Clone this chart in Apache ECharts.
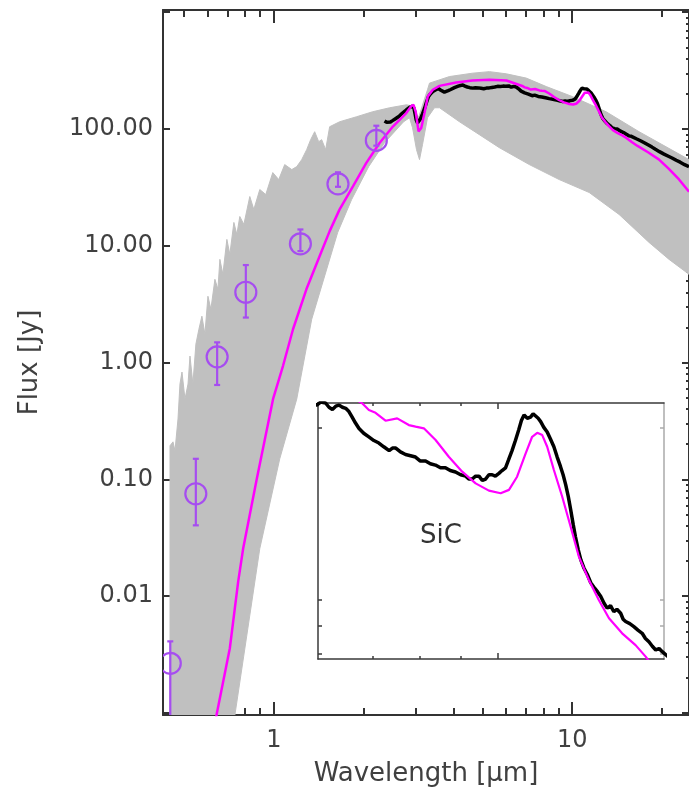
<!DOCTYPE html>
<html><head><meta charset="utf-8">
<script src="https://cdn.jsdelivr.net/npm/echarts@6/dist/echarts.min.js"></script>
<style>html,body{margin:0;padding:0;background:#fff}#c{width:689px;height:792px}</style>
</head><body><div id="c"></div>
<script>
// ---------- tick values / labels ----------
const xTickLabels = [1, 10];
const xMajorTicks = [1, 10];
const xMinorTicks = [0.5, 0.6, 0.7, 0.8, 0.9, 2, 3, 4, 5, 6, 7, 8, 9, 20];
const yTickLabels = [0.01, 0.1, 1, 10, 100];
const yMajorTicks = [0.001, 0.01, 0.1, 1, 10, 100, 1000];
const yMinorTicks = [0.002,0.003,0.004,0.005,0.006,0.007,0.008,0.009,
  0.02,0.03,0.04,0.05,0.06,0.07,0.08,0.09,
  0.2,0.3,0.4,0.5,0.6,0.7,0.8,0.9,
  2,3,4,5,6,7,8,9, 20,30,40,50,60,70,80,90, 200,300,400,500,600,700,800,900];
const insetXMajor = [10];
const insetXMinor = [7, 8, 9];
const insetYTicks = [84.7, 94.9, 105.4, 211.5];

// ---------- photometry ----------
const photWave = [0.45, 0.548, 0.646, 0.806, 1.228, 1.641, 2.206];
const photFlux = [0.00266, 0.0753, 1.12, 4.0, 10.4, 33.9, 79.9];
const photLow  = [0.0004, 0.0404, 0.643, 2.43, 9.01, 32.0, 72];
const photHigh = [0.0041, 0.150, 1.49, 6.84, 13.8, 42.6, 106.7];

// ---------- observed spectrum (black) ----------
const blackWave = [2.35,2.39,2.42,2.46,2.50,2.55,2.60,2.65,2.70,2.75,2.80,2.85,2.88,2.92,2.95,2.98,3.00,3.03,3.06,3.10,3.15,3.20,3.25,3.30,3.34,3.37,3.41,3.45,3.49,3.52,3.56,3.59,3.63,3.68,3.73,3.78,3.84,3.90,3.96,4.03,4.09,4.15,4.22,4.30,4.37,4.45,4.54,4.64,4.74,4.85,4.95,5.05,5.16,5.27,5.38,5.50,5.62,5.75,5.86,5.98,6.05,6.13,6.19,6.25,6.31,6.37,6.43,6.49,6.55,6.61,6.67,6.74,6.83,6.93,7.03,7.13,7.23,7.34,7.41,7.48,7.58,7.69,7.80,7.91,8.02,8.14,8.25,8.37,8.49,8.61,8.73,8.86,8.99,9.12,9.20,9.29,9.38,9.47,9.56,9.65,9.74,9.83,9.92,10.02,10.11,10.21,10.30,10.40,10.50,10.60,10.68,10.76,10.86,10.96,11.04,11.12,11.20,11.28,11.38,11.49,11.60,11.71,11.82,11.93,12.02,12.11,12.20,12.28,12.37,12.45,12.55,12.64,12.75,12.87,13.00,13.12,13.25,13.37,13.50,13.62,13.75,13.88,14.00,14.15,14.25,14.35,14.52,14.69,14.86,15.04,15.18,15.33,15.48,15.63,15.78,15.92,16.40,17.00,17.50,18.00,18.50,19.00,19.60,20.30,21.00,21.60,22.30,23.00,23.80,24.62];
const blackFlux = [117,114,111,115,118,122,126,131,137,142,148,153,156,157,150,132,120,113,114,122,135,150,170,190,198,203,209,213,217,219,222,221,215,211,207,209,213,217,221,226,230,233,236,238,233,229,226,224,226,225,223,221,224,225,227,229,232,231,233,232,235,234,230,228,231,232,230,229,226,221,216,211,207,204,201,199,196,193,195,195,192,190,189,188,185,185,183,182,180,180,178,177,175,174,172,172,174,174,171,172,175,175,174,176,178,180,186,193,201,210,218,223,220,221,224,222,220,217,212,208,202,196,188,181,175,168,160,152,143,136,129,124,120,117,113,111,109,107,104,102,103,100.5,101.5,99.9,97.5,96.6,95.8,94.6,93.3,92.1,90.2,89.0,87.4,86.1,86.6,85.5,82.5,79,76,73,70,67,64,61,58.5,56.5,54,52,49.5,47.5];

// ---------- best model (magenta) ----------
const modelWave = [0.6252,0.6431,0.7124,0.7598,0.7896,0.8773,0.9946,1.074,1.160,1.286,1.425,1.539,1.662,1.842,2.042,2.262,2.506,2.779,2.894,2.94,2.99,3.055,3.12,3.199,3.28,3.41,3.592,4.083,4.63,5.278,6.02,6.80,6.931,7.063,7.266,7.510,7.762,7.912,8.1,8.374,8.693,9.03,9.38,9.74,10.07,10.31,10.55,10.81,11.01,11.17,11.33,11.49,11.71,11.99,12.28,12.57,12.93,13.30,13.69,14.21,14.76,15.19,15.87,16.5,18.0,19.5,21.0,22.8,24.62];
const modelFlux = [0.00061,0.000963,0.00358,0.0133,0.0256,0.101,0.488,0.939,1.93,4.24,8.17,13.35,20.5,32.3,51.3,75.9,105,137,158,161,140,95.4,102,137,190,217,234,250,260,264,260,233.7,227.4,224.9,217.8,219.9,214.0,212.6,211.2,201.4,188.2,177.2,169.0,164.1,162.4,164.6,173.6,190.9,204.1,207.4,205.5,196.0,178.4,160.1,141.8,125.6,114.3,105.4,97.9,92.1,87.8,83.8,77,72,63,55,46,37,29];

// ---------- model grid envelope (grey) ----------
const gridUpperWave = [0.449,0.4595,0.4666,0.4776,0.4849,0.4925,0.504,0.516,0.5238,0.5358,0.5483,0.5612,0.5743,0.5878,0.6017,0.6156,0.635,0.6499,0.6598,0.6752,0.6963,0.7124,0.7350,0.7520,0.7695,0.7938,0.8311,0.8573,0.8977,0.9402,0.9924,1.039,1.088,1.149,1.194,1.240,1.289,1.329,1.371,1.414,1.447,1.492,1.539,1.662,1.895,2.143,2.443,2.785,2.894,2.96,3.055,3.15,3.274,3.325,3.879,4.630,5.278,6.017,7.018,8.185,10.0,12.99,16.75,24.62];
const gridUpperFlux = [0.194,0.2095,0.1754,0.329,0.655,0.8295,0.488,0.655,1.137,0.655,1.439,1.932,2.495,1.751,3.698,2.863,5.164,4.244,7.653,5.699,11.34,8.444,15.85,12.51,17.82,15.23,26.41,20.46,30.31,27.48,42.36,36.9,49.56,44.94,47.64,54.6,66.56,81.03,94.82,77.9,81.03,66.56,104.6,115.4,127.4,140.5,152,161.3,158,150,124.9,160,216.9,247.1,281.3,300.6,310,296.8,272.8,231,189.8,140.5,94.8,54.7];
const gridLowerWave = [0.449,0.707,0.7406,0.8977,1.047,1.194,1.340,1.637,1.823,2.079,2.351,2.722,2.85,2.917,3.008,3.078,3.15,3.274,3.455,3.592,4.19,4.887,5.701,7.181,9.049,11.40,14.36,18.09,21.11,24.62];
const gridLowerFlux = [0.000436,0.000436,0.000955,0.02555,0.15,0.488,2.352,13.0,24.9,47.6,76.4,115.4,124.9,102.6,66.6,54.7,73.5,124.9,152,152,115.4,89.4,69.2,49.6,36.9,28.6,18.54,10.69,7.65,5.70];

// ---------- styling ----------
const AX = '#333', TXT = '#404040', FONT = 'DejaVu Sans';
const GREY = '#c0c0c0', MAG = '#ff00ff', PURPLE = '#a64df0';

const pairs = (w, f) => w.map((v, i) => [v, f[i]]);

function tickAxis(base, ticks, len, show, color, width) {
  return Object.assign({
    type: 'log', logBase: 10, splitLine: {show: false},
    axisLabel: {show: false},
    axisLine: {show: show, onZero: false, lineStyle: {color: color || AX, width: width || 2}},
    axisTick: {show: true, inside: true, length: len, customValues: ticks,
      lineStyle: {color: color || AX, width: width || 2}}
  }, base);
}

const MX = {min: 0.4254, max: 24.62};
const MY = {min: 0.00096, max: 1045};
const IX = {min: 6, max: 16};
const IY = {min: 83, max: 234};

const xAxes = [
  Object.assign(tickAxis({gridIndex: 0, position: 'bottom'}, xMajorTicks, 13, true), MX, {
    axisLabel: {show: true, customValues: xTickLabels, margin: 14, fontSize: 24, color: TXT,
      fontFamily: FONT, formatter: v => String(Math.round(v))},
    name: 'Wavelength [\u03bcm]', nameLocation: 'middle', nameGap: 46,
    nameTextStyle: {fontSize: 26, color: TXT, fontFamily: FONT}
  }),
  Object.assign(tickAxis({gridIndex: 0, position: 'bottom'}, xMinorTicks, 7, false), MX),
  Object.assign(tickAxis({gridIndex: 0, position: 'top'}, xMajorTicks, 13, true), MX),
  Object.assign(tickAxis({gridIndex: 0, position: 'top'}, xMinorTicks, 7, false), MX),
  Object.assign(tickAxis({gridIndex: 1, position: 'bottom'}, insetXMinor, 3, true, '#3a3a3a', 1.5), IX),
  Object.assign(tickAxis({gridIndex: 1, position: 'bottom'}, insetXMajor, 6, false, '#3a3a3a', 1.5), IX),
  Object.assign(tickAxis({gridIndex: 1, position: 'top'}, insetXMinor, 3, true, '#3a3a3a', 1.5), IX),
  Object.assign(tickAxis({gridIndex: 1, position: 'top'}, insetXMajor, 6, false, '#3a3a3a', 1.5), IX)
];

const yAxes = [
  Object.assign(tickAxis({gridIndex: 0, position: 'left'}, yMajorTicks, 7, true), MY, {
    axisLabel: {show: true, customValues: yTickLabels, margin: 10, fontSize: 24, color: TXT,
      fontFamily: FONT, formatter: v => Number(v).toFixed(2)},
    name: 'Flux [Jy]', nameLocation: 'middle', nameGap: 120,
    nameTextStyle: {fontSize: 26, color: TXT, fontFamily: FONT}
  }),
  Object.assign(tickAxis({gridIndex: 0, position: 'right'}, yMajorTicks, 7, true), MY),
  Object.assign(tickAxis({gridIndex: 0, position: 'right'}, yMinorTicks, 3, false), MY),
  Object.assign(tickAxis({gridIndex: 1, position: 'left'}, insetYTicks, 4, true, '#3a3a3a', 1.5), IY),
  Object.assign(tickAxis({gridIndex: 1, position: 'right'}, insetYTicks, 4, true, '#aaaaaa', 1.5), IY)
];

const series = [
  {
    type: 'custom', xAxisIndex: 0, yAxisIndex: 0, clip: true, silent: true, z: 1,
    data: [[1, 1]],
    renderItem: function (params, api) {
      const pts = [];
      for (let i = 0; i < gridUpperWave.length; i++) pts.push(api.coord([gridUpperWave[i], gridUpperFlux[i]]));
      for (let i = gridLowerWave.length - 1; i >= 0; i--) pts.push(api.coord([gridLowerWave[i], gridLowerFlux[i]]));
      return {type: 'polygon', shape: {points: pts}, style: {fill: GREY, stroke: GREY, lineWidth: 1}};
    }
  },
  {
    type: 'line', xAxisIndex: 0, yAxisIndex: 0, data: pairs(blackWave, blackFlux),
    showSymbol: false, clip: true, z: 3, lineStyle: {color: '#000', width: 3.5}
  },
  {
    type: 'line', xAxisIndex: 0, yAxisIndex: 0, data: pairs(modelWave, modelFlux),
    showSymbol: false, clip: true, z: 4, lineStyle: {color: MAG, width: 2.5}
  },
  {
    type: 'custom', xAxisIndex: 0, yAxisIndex: 0, clip: true, z: 5,
    data: photWave.map((w, i) => [w, photFlux[i], photLow[i], photHigh[i]]),
    encode: {x: 0, y: 1},
    renderItem: function (params, api) {
      const c = api.coord([api.value(0), api.value(1)]);
      const lo = api.coord([api.value(0), api.value(2)]);
      const hi = api.coord([api.value(0), api.value(3)]);
      const cs = params.coordSys;
      const st = {stroke: PURPLE, lineWidth: 2.2, fill: null};
      return {type: 'group',
        clipPath: {type: 'rect', shape: {x: cs.x, y: cs.y, width: cs.width, height: cs.height}},
        children: [
          {type: 'line', shape: {x1: c[0], y1: lo[1], x2: c[0], y2: hi[1]}, style: st},
          {type: 'line', shape: {x1: c[0] - 3, y1: hi[1], x2: c[0] + 3, y2: hi[1]}, style: st},
          {type: 'line', shape: {x1: c[0] - 3, y1: lo[1], x2: c[0] + 3, y2: lo[1]}, style: st},
          {type: 'circle', shape: {cx: c[0], cy: c[1], r: 10.5}, style: st}
        ]};
    }
  },
  {
    type: 'line', xAxisIndex: 4, yAxisIndex: 3, data: pairs(blackWave, blackFlux),
    showSymbol: false, clip: true, z: 3, lineStyle: {color: '#000', width: 3.5}
  },
  {
    type: 'line', xAxisIndex: 4, yAxisIndex: 3, data: pairs(modelWave, modelFlux),
    showSymbol: false, clip: true, z: 4, lineStyle: {color: MAG, width: 2.2}
  }
];

const chart = echarts.init(document.getElementById('c'), null, {renderer: 'canvas'});
chart.setOption({
  animation: false,
  backgroundColor: '#fff',
  grid: [
    {left: 163, top: 10, width: 527, height: 707, containLabel: false},
    {left: 318, top: 403, width: 346, height: 256, containLabel: false, show: true, backgroundColor: '#fff', borderWidth: 0}
  ],
  xAxis: xAxes,
  yAxis: yAxes,
  series: series,
  graphic: [{
    type: 'text', x: 441, y: 536, z: 10,
    style: {text: 'SiC', fontSize: 26, fill: '#333', fontFamily: FONT, align: 'center', verticalAlign: 'middle'}
  }]
});
</script>
</body></html>
